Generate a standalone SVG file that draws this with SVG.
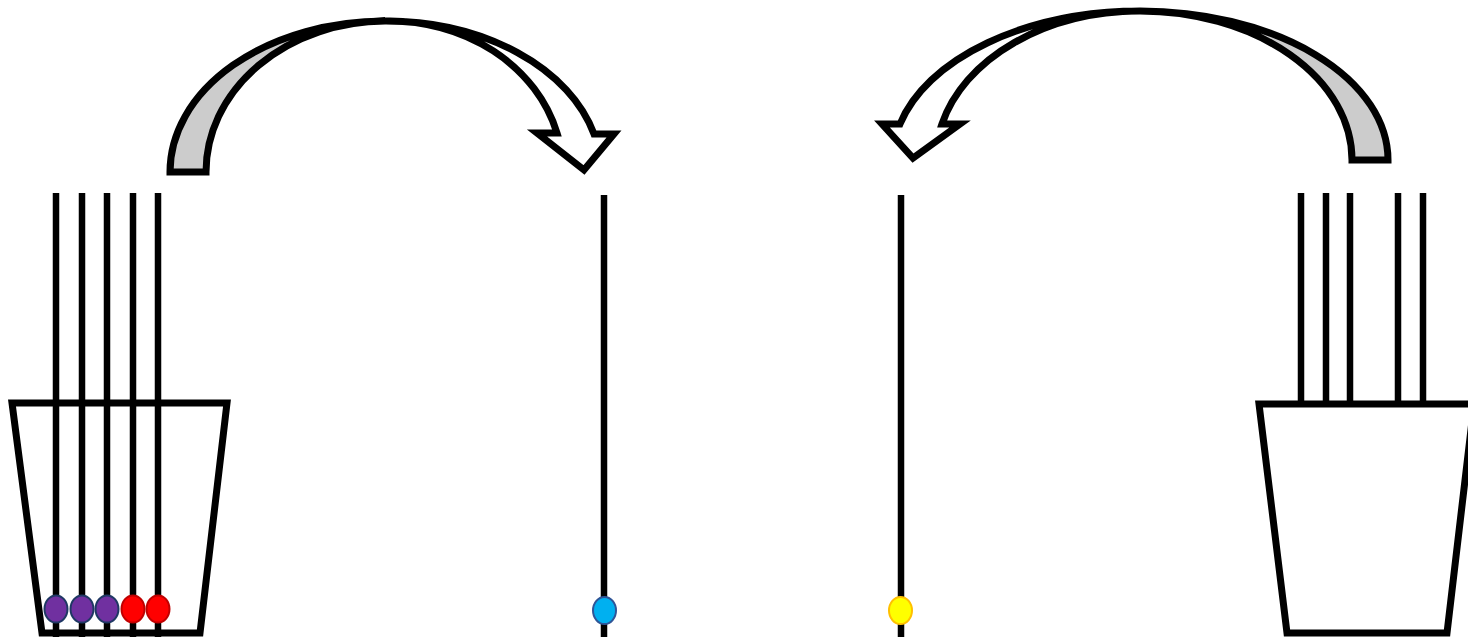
<svg xmlns="http://www.w3.org/2000/svg" width="1468" height="637" viewBox="0 0 1468 637">
<style>
.ln{stroke:#000;stroke-width:6.5;fill:none}
.cup{stroke:#000;stroke-width:7;fill:none;stroke-linejoin:miter}
.back{fill:#CCCCCC;stroke:#000;stroke-width:7;stroke-linejoin:miter}
.front{fill:#FFFFFF;stroke:#000;stroke-width:7;stroke-linejoin:miter}
.purple{fill:#7030A0;stroke:#1F3864;stroke-width:2}
.red{fill:#FF0000;stroke:#C00000;stroke-width:2}
.blue{fill:#00B0F0;stroke:#2F5597;stroke-width:2}
.yellow{fill:#FFFF00;stroke:#FFC000;stroke-width:2}
</style>
<rect width="1468" height="637" fill="#FFFFFF"/>
<g id="left-cup">
<line class="ln" x1="56" y1="193" x2="56" y2="637"/>
<line class="ln" x1="82" y1="193" x2="82" y2="637"/>
<line class="ln" x1="107" y1="193" x2="107" y2="637"/>
<line class="ln" x1="133" y1="193" x2="133" y2="637"/>
<line class="ln" x1="158" y1="193" x2="158" y2="637"/>
<polygon class="cup" points="12,403 227,403 200,633 42,633"/>
<ellipse class="purple" cx="56" cy="609" rx="11.5" ry="13.5"/>
<ellipse class="purple" cx="82" cy="609" rx="11.5" ry="13.5"/>
<ellipse class="purple" cx="107" cy="609" rx="11.5" ry="13.5"/>
<ellipse class="red" cx="133" cy="609" rx="11.5" ry="13.5"/>
<ellipse class="red" cx="158" cy="609" rx="11.5" ry="13.5"/>
</g>
<g id="stick-blue">
<line class="ln" x1="604" y1="195" x2="604" y2="637"/>
<ellipse class="blue" cx="604.5" cy="610.5" rx="11.5" ry="13.5"/>
</g>
<g id="stick-yellow">
<line class="ln" x1="901" y1="195" x2="901" y2="637"/>
<ellipse class="yellow" cx="900.5" cy="610.5" rx="11.5" ry="13.5"/>
</g>
<g id="right-cup">
<line class="ln" x1="1301" y1="193" x2="1301" y2="404"/>
<line class="ln" x1="1326" y1="193" x2="1326" y2="404"/>
<line class="ln" x1="1350" y1="193" x2="1350" y2="404"/>
<line class="ln" x1="1398" y1="193" x2="1398" y2="404"/>
<line class="ln" x1="1423" y1="193" x2="1423" y2="404"/>
<polygon class="cup" points="1259,404 1474,404 1447,633 1287,633"/>
</g>
<g id="connectors">
<g id="arrow-left-to-blue">
<path class="back" d="M170,172 A215,151 0 0 1 385,21 A180,151 0 0 0 206,172 Z"/>
<path class="front" d="M385,21 A215,151 0 0 1 594,134 L614,134 L584,170 L537,133 L557,133 A173,151 0 0 0 385,21 Z"/>
</g>
<g id="arrow-right-to-yellow">
<path class="back" d="M1388,160 A248,149 0 0 0 1140,11 A212,149 0 0 1 1352,160 Z"/>
<path class="front" d="M1140,11 A248,149 0 0 0 900,124 L882,124 L913,158 L960,124 L942,124 A204,149 0 0 1 1140,11 Z"/>
</g>
</g>
</svg>
